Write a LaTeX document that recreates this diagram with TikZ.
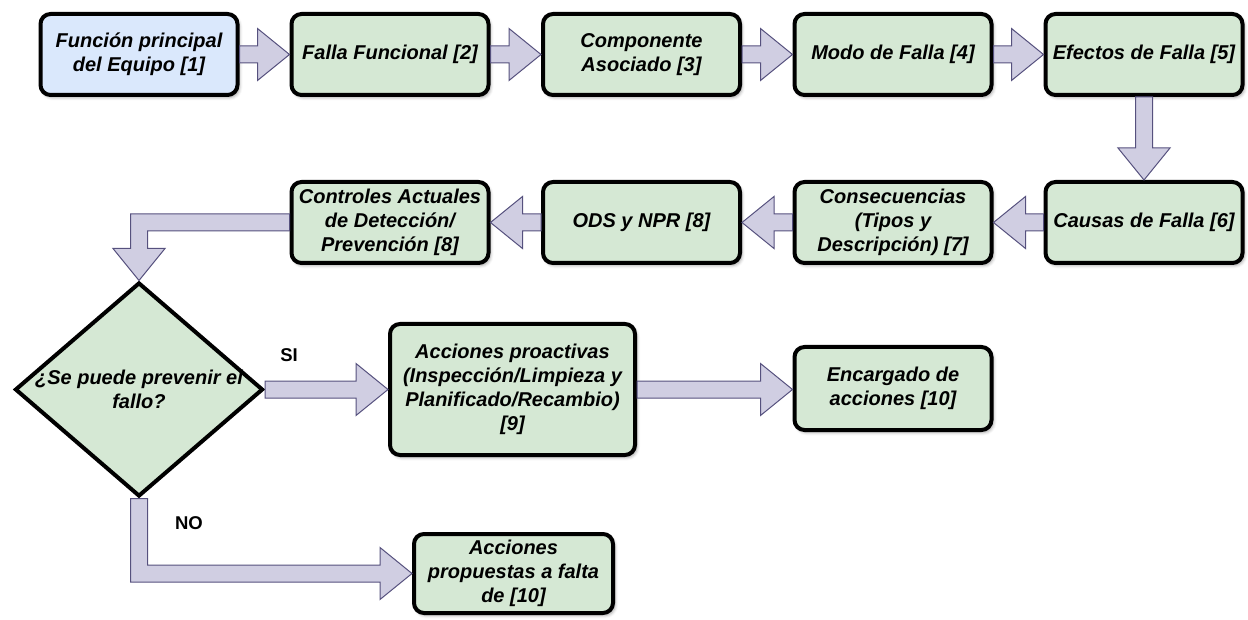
\documentclass[tikz,border=0pt]{standalone}
\usepackage{fontspec}
\setmainfont{Liberation Sans}
\usetikzlibrary{shapes.geometric,calc,shadows.blur}

\definecolor{boxgreen}{HTML}{D5E8D4}
\definecolor{boxblue}{HTML}{DAE8FC}
\definecolor{arrowfill}{HTML}{D0CEE2}
\definecolor{arrowline}{HTML}{56517E}

% block arrow dimensions: shaft half-width, head half-width, head length
\def\shaftw{8.5}
\def\headw{26}
\def\headl{32}

% block arrow pointing right, from #1 to #2 (same height)
\newcommand{\rblock}[2]{%
  \path[blockarrow] ($(#1)+(0,-\shaftw)$) -- ($(#2)+(-\headl,-\shaftw)$)
    -- ($(#2)+(-\headl,-\headw)$) -- (#2) -- ($(#2)+(-\headl,\headw)$)
    -- ($(#2)+(-\headl,\shaftw)$) -- ($(#1)+(0,\shaftw)$) -- cycle;}
% block arrow pointing left
\newcommand{\lblock}[2]{%
  \path[blockarrow] ($(#1)+(0,-\shaftw)$) -- ($(#2)+(\headl,-\shaftw)$)
    -- ($(#2)+(\headl,-\headw)$) -- (#2) -- ($(#2)+(\headl,\headw)$)
    -- ($(#2)+(\headl,\shaftw)$) -- ($(#1)+(0,\shaftw)$) -- cycle;}
% block arrow pointing down
\newcommand{\dblock}[2]{%
  \path[blockarrow] ($(#1)+(-\shaftw,0)$) -- ($(#2)+(-\shaftw,-\headl)$)
    -- ($(#2)+(-\headw,-\headl)$) -- (#2) -- ($(#2)+(\headw,-\headl)$)
    -- ($(#2)+(\shaftw,-\headl)$) -- ($(#1)+(\shaftw,0)$) -- cycle;}

\begin{document}
\begin{tikzpicture}[x=1pt,y=-1pt,
  stage/.style={draw=black, line width=4pt, rounded corners=10pt, fill=boxgreen,
    align=center, font=\fontsize{20}{24}\selectfont\bfseries\itshape,
    inner sep=2pt, minimum width=197pt, minimum height=81pt,
    blur shadow={shadow xshift=2pt, shadow yshift=-2.5pt, shadow blur radius=3pt, shadow opacity=35}},
  startbox/.style={stage, fill=boxblue},
  decision/.style={diamond, draw=black, line width=4pt, fill=boxgreen,
    minimum width=248pt, minimum height=214pt, inner sep=0pt},
  qtext/.style={align=center, font=\fontsize{20}{24}\selectfont\bfseries\itshape},
  branch/.style={font=\fontsize{18.5}{22}\selectfont\bfseries, inner sep=0pt},
  blockarrow/.style={fill=arrowfill, draw=arrowline, line width=1pt, line join=miter}]

\useasboundingbox (0,0) rectangle (1248,620);

% first row
\node[startbox] (f1) at (139,54.5) {Función principal\\del Equipo [1]};
\node[stage] (f2) at (390,54.5) {Falla Funcional [2]};
\node[stage] (f3) at (641.5,54.5) {Componente\\Asociado [3]};
\node[stage] (f4) at (893,54.5) {Modo de Falla [4]};
\node[stage] (f5) at (1144,54.5) {Efectos de Falla [5]};

% second row
\node[stage] (f6) at (1144,222.5) {Causas de Falla [6]};
\node[stage] (f7) at (893,222.5) {Consecuencias\\(Tipos y\\Descripción) [7]};
\node[stage] (f8) at (641.5,222.5) {ODS y NPR [8]};
\node[stage] (f9) at (390,222.5) {Controles Actuales\\de Detección/\\Prevención [8]};

% decision and actions
\node[decision, label={[qtext]center:{¿Se puede prevenir el\\fallo?}}] (q) at (139,389.5) {};
\node[stage, minimum width=245pt, minimum height=131pt] (pro) at (512.5,389.5)
  {Acciones proactivas\\(Inspección/Limpieza y\\Planificado/Recambio)\\{[9]}};
\node[stage, minimum height=83pt] (enc) at (893,388.5) {Encargado de\\acciones [10]};
\node[stage, minimum width=199pt, minimum height=79pt] (prop) at (513.5,573.5)
  {Acciones\\propuestas a falta\\de [10]};

\node[branch] (si) at (289,355) {SI};
\node[branch] (no) at (189,523.5) {NO};

% connectors
\rblock{f1.east}{f2.west}
\rblock{f2.east}{f3.west}
\rblock{f3.east}{f4.west}
\rblock{f4.east}{f5.west}
\dblock{f5.south}{f6.north}
\lblock{f6.west}{f7.east}
\lblock{f7.west}{f8.east}
\lblock{f8.west}{f9.east}

\coordinate (k1) at (q.north |- f9.west);
\path[blockarrow] ($(f9.west)+(0,-\shaftw)$) -- ($(k1)+(-\shaftw,-\shaftw)$)
  -- ($(q.north)+(-\shaftw,-\headl)$) -- ($(q.north)+(-\headw,-\headl)$)
  -- (q.north) -- ($(q.north)+(\headw,-\headl)$) -- ($(q.north)+(\shaftw,-\headl)$)
  -- ($(k1)+(\shaftw,\shaftw)$) -- ($(f9.west)+(0,\shaftw)$) -- cycle;

\rblock{q.east}{pro.west}
\coordinate (t4) at (enc.west |- pro.east);
\rblock{pro.east}{t4}

\coordinate (k2) at (q.south |- prop.west);
\path[blockarrow] ($(q.south)+(-\shaftw,0)$) -- ($(k2)+(-\shaftw,\shaftw)$)
  -- ($(prop.west)+(-\headl,\shaftw)$) -- ($(prop.west)+(-\headl,\headw)$)
  -- (prop.west) -- ($(prop.west)+(-\headl,-\headw)$) -- ($(prop.west)+(-\headl,-\shaftw)$)
  -- ($(k2)+(\shaftw,-\shaftw)$) -- ($(q.south)+(\shaftw,0)$) -- cycle;
\end{tikzpicture}
\end{document}
